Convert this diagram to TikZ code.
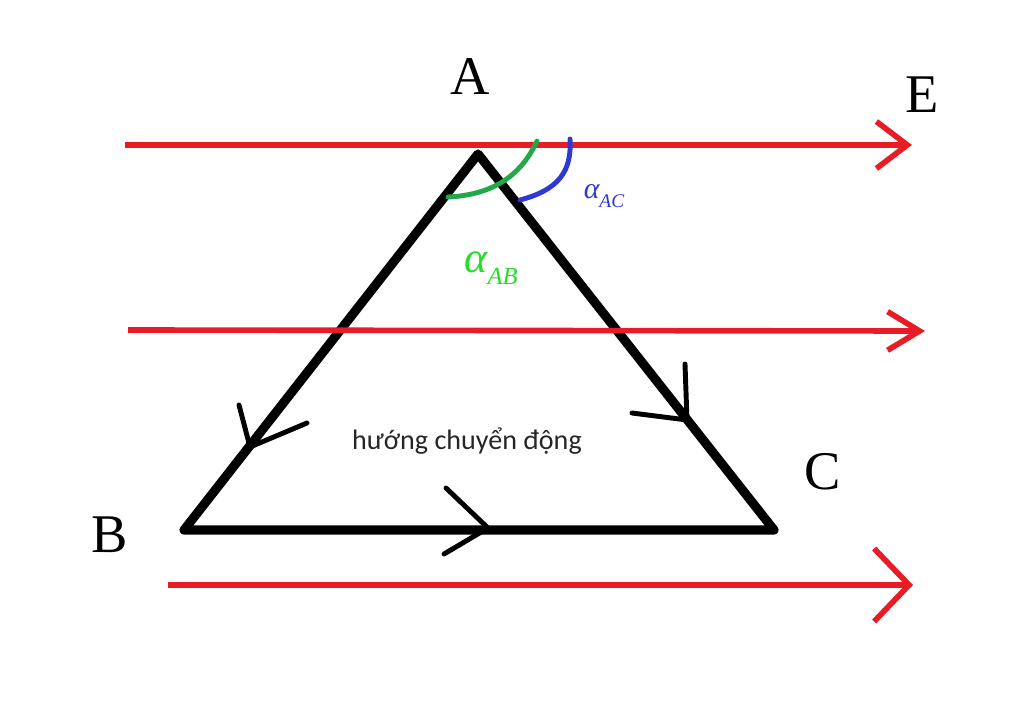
\documentclass[tikz,border=0pt]{standalone}
\usepackage{fontspec}
\setmainfont{Liberation Serif}
\newfontfamily\notefont{Carlito}
\usepackage{tikz}
\usetikzlibrary{arrows.meta, positioning}
\definecolor{fieldred}{RGB}{232,28,36}
\definecolor{arcgreen}{RGB}{34,168,72}
\definecolor{arcblue}{RGB}{48,56,210}
\definecolor{labelgreen}{RGB}{40,220,40}

\begin{document}
\begin{tikzpicture}[
  x=0.02cm, y=-0.02cm,
  field/.style n args={2}{draw=fieldred, line width=3.2pt, -{Straight Barb[length=#1pt, width=#2pt, line width=3.2pt]}},
  side/.style={draw, line width=5.2pt, line cap=round, line join=round},
  chevron/.style={draw, line width=2.8pt, line cap=round, line join=round},
  angarc/.style={line width=2.8pt, line cap=round},
  vertex/.style={inner sep=0pt, font=\fontsize{31}{31}\selectfont},
]
\useasboundingbox (0,0) rectangle (1024,706);

\coordinate (A) at (478,154);
\coordinate (B) at (184,530);
\coordinate (C) at (774,530);
\draw[side] (A) -- (B) -- (C) -- cycle;

\draw[chevron] (239,405) -- (250,447) -- (307,423);
\draw[chevron] (685,364) -- (687,420) -- (632,413);
\draw[chevron] (446,488) -- (488,528) -- (444,554);

\coordinate (topL) at (125,145);
\coordinate (topR) at (912,145);
\coordinate (midL) at (128,330);
\coordinate (midR) at (925,331);
\coordinate (lowL) at (168,585);
\coordinate (lowR) at (913,585);
\draw[field={17.6}{26.7}] (topL) -- (topR);
\draw[field={18.2}{22.0}] (midL) -- (midR);
\draw[field={19.9}{41.5}] (lowL) -- (lowR);

\draw[angarc, arcgreen] (448,197) .. controls (490,195) and (520,178) .. (537,141);
\draw[angarc, arcblue] (520,200) .. controls (558,190) and (572,172) .. (570,139);

\node[vertex] (labA) at (470,77) {A};
\node[vertex] (labE) at (922,95) {E};
\node[vertex] (labB) at (110,535) {B};
\node[vertex] (labC) at (823,472) {C};

\node[text=arcblue, inner sep=0pt] (alphaAC) at (604,196)
  {\fontsize{17}{17}\selectfont\itshape α\fontsize{11}{11}\selectfont\raisebox{-5pt}{AC}};
\node[text=labelgreen, inner sep=0pt] (alphaAB) at (491,268)
  {\fontsize{25}{25}\selectfont\itshape α\fontsize{14}{14}\selectfont\raisebox{-7pt}{AB}};

\node[font=\notefont\fontsize{16}{16}\selectfont, text=black!85] (motion) at (467,441) {hướng chuyển động};
\end{tikzpicture}
\end{document}
